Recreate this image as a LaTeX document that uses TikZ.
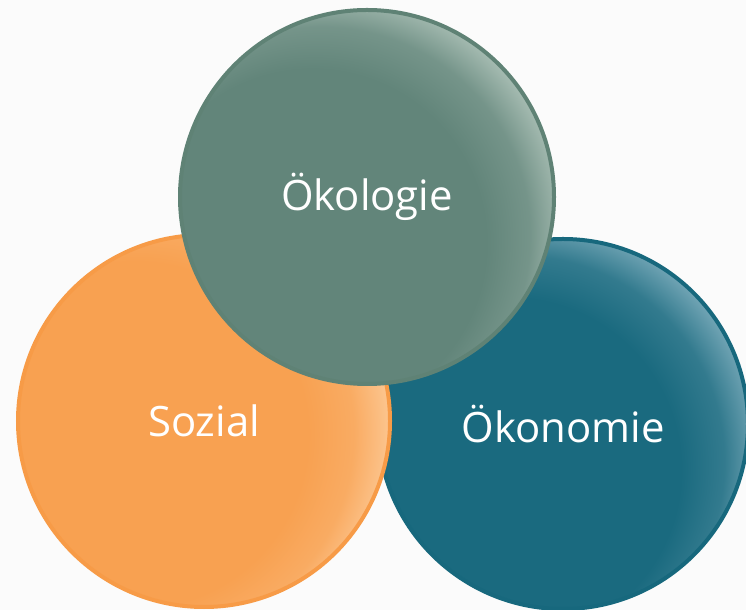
\documentclass[tikz,border=0pt]{standalone}
\usepackage{fontspec}
\setmainfont{Open Sans}
\definecolor{bgcol}{HTML}{FBFBFB}
% Ökologie
\definecolor{oekbase}{HTML}{62857A}
\definecolor{oeklight}{HTML}{A6BCB2}
\definecolor{oekrim}{HTML}{5F8275}
% Sozial
\definecolor{sozbase}{HTML}{F8A151}
\definecolor{sozlight}{HTML}{FCC690}
\definecolor{sozrim}{HTML}{F79B47}
% Ökonomie
\definecolor{konbase}{HTML}{1A6A7F}
\definecolor{konlight}{HTML}{72A5B5}
\definecolor{konrim}{HTML}{17687D}
% radial shadings with a light crescent on the rim
% (the circle's rim lies at 25bp in shading coordinates)
\colorlet{glowbase}{oekbase}
\colorlet{glowlight}{oeklight}
\pgfdeclareradialshading[glowbase,glowlight]{glow}{\pgfpoint{-13.8bp}{-11.6bp}}{%
  color(0bp)=(glowbase); color(23.3bp)=(glowbase); color(27.9bp)=(glowbase!72!glowlight);
  color(31.6bp)=(glowlight); color(50bp)=(glowlight)}
\pgfdeclareradialshading[glowbase,glowlight]{sideglow}{\pgfpoint{-17.5bp}{-3.5bp}}{%
  color(0bp)=(glowbase); color(23.3bp)=(glowbase); color(27.9bp)=(glowbase!72!glowlight);
  color(31.6bp)=(glowlight); color(50bp)=(glowlight)}
\tikzset{
  bubble/.style={circle, inner sep=0pt, text=white, line width=4bp,
    font=\fontsize{42}{50}\selectfont, shading=glow},
}
\begin{document}
\begin{tikzpicture}[x=1bp, y=1bp]
  \fill[bgcol] (0,0) rectangle (746,610);
  \useasboundingbox (0,0) rectangle (746,610);
  % bottom layer: Ökonomie
  \colorlet{glowbase}{konbase}\colorlet{glowlight}{konlight}
  \node[bubble, draw=konrim, minimum size=370bp] (kon) at (563,186) {Ökonomie};
  % middle layer: Sozial
  \colorlet{glowbase}{sozbase}\colorlet{glowlight}{sozlight}
  \node[bubble, shading=sideglow, draw=sozrim, minimum size=372bp] (soz) at (204,189) {Sozial};
  % top layer: Ökologie
  \colorlet{glowbase}{oekbase}\colorlet{glowlight}{oeklight}
  \node[bubble, draw=oekrim, minimum size=374bp] (oek) at (367,413) {Ökologie};
\end{tikzpicture}
\end{document}
